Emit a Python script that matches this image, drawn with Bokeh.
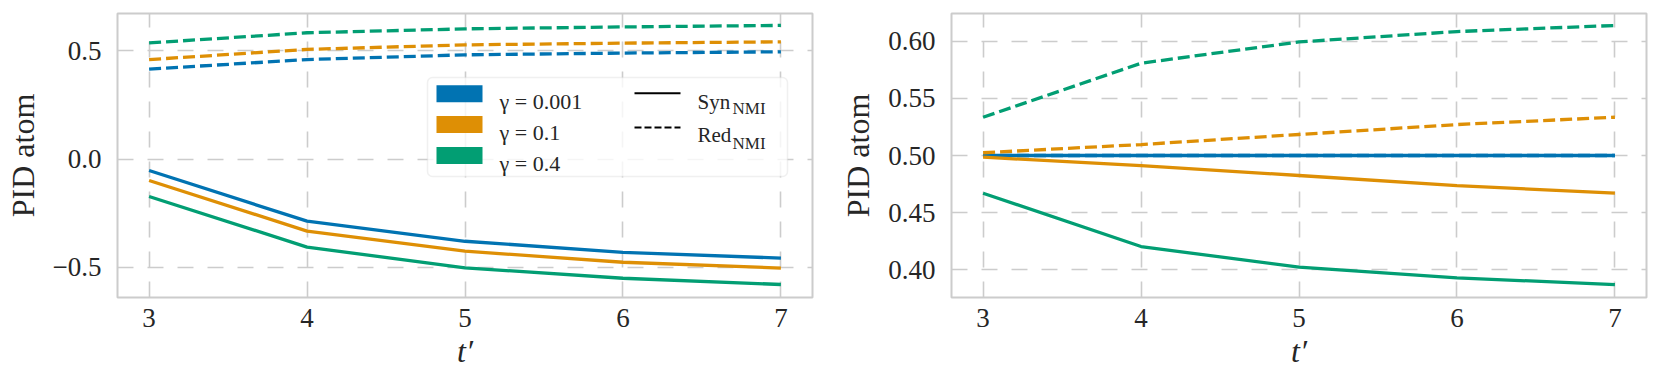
from bokeh.plotting import figure
from bokeh.models import Range1d, FixedTicker, CustomJSTickFormatter, BoxAnnotation, Label, Arrow
from bokeh.layouts import row
from bokeh.embed import file_html
from bokeh.resources import INLINE

# ---------------- data ----------------
t_prime = [3, 4, 5, 6, 7]
gamma_labels = ["γ = 0.001", "γ = 0.1", "γ = 0.4"]
colors = ["#0173b2", "#de8f05", "#029e73"]

# left panel
left_syn_g0001 = [-0.053, -0.287, -0.380, -0.431, -0.458]
left_syn_g01 = [-0.099, -0.333, -0.426, -0.477, -0.504]
left_syn_g04 = [-0.173, -0.407, -0.503, -0.551, -0.580]
left_red_g0001 = [0.416, 0.460, 0.482, 0.490, 0.496]
left_red_g01 = [0.460, 0.507, 0.528, 0.536, 0.542]
left_red_g04 = [0.537, 0.584, 0.602, 0.611, 0.618]

# right panel
right_syn_g0001 = [0.500, 0.500, 0.500, 0.500, 0.500]
right_syn_g01 = [0.4985, 0.4912, 0.4825, 0.4737, 0.4670]
right_syn_g04 = [0.4670, 0.4203, 0.4022, 0.3929, 0.3870]
right_red_g0001 = [0.500, 0.500, 0.500, 0.500, 0.500]
right_red_g01 = [0.5024, 0.5096, 0.5184, 0.5271, 0.5335]
right_red_g04 = [0.5335, 0.5808, 0.5994, 0.6085, 0.6138]

left_yticks = [-0.5, 0.0, 0.5]
right_yticks = [0.40, 0.45, 0.50, 0.55, 0.60]

# ---------------- styling ----------------
FONT = "Liberation Serif"
TXT = "#262626"
GRID = "#cccccc"
FW, FH = 695, 284
XR = (2.8, 7.2)


def make_fig(yr, yticks, digits, bl, br):
    p = figure(frame_width=FW, frame_height=FH, x_range=Range1d(*XR), y_range=Range1d(*yr),
               output_backend="svg", toolbar_location=None,
               min_border_left=bl, min_border_right=br, min_border_top=13, min_border_bottom=80,
               background_fill_color="white", border_fill_color="white")
    p.outline_line_color = GRID
    p.outline_line_width = 2
    p.outline_line_alpha = 1.0
    p.xaxis.ticker = FixedTicker(ticks=t_prime)
    p.yaxis.ticker = FixedTicker(ticks=yticks)
    p.yaxis.formatter = CustomJSTickFormatter(
        code="return tick.toFixed(%d).replace('-', '\\u2212');" % digits)
    for ax in (p.xaxis[0], p.yaxis[0]):
        ax.axis_line_color = None
        ax.major_tick_line_color = None
        ax.minor_tick_line_color = None
        ax.major_tick_in = 0
        ax.major_tick_out = 0
        ax.major_label_text_font = FONT
        ax.major_label_text_font_size = "27px"
        ax.major_label_text_color = TXT
        ax.axis_label_text_font = FONT
        ax.axis_label_text_font_size = "32px"
        ax.axis_label_text_color = TXT
    p.xaxis.major_label_standoff = 11
    p.yaxis.major_label_standoff = 16
    p.xaxis.axis_label = "t′"
    p.xaxis.axis_label_text_font_style = "italic"
    p.xaxis.axis_label_standoff = 3
    p.yaxis.axis_label = "PID atom"
    p.yaxis.axis_label_text_font_style = "normal"
    p.yaxis.axis_label_standoff = 9
    p.grid.grid_line_color = GRID
    p.grid.grid_line_width = 1.6
    p.grid.grid_line_dash = "16 14"
    return p


def draw(p, syns, reds):
    for c, s, r in zip(colors, syns, reds):
        p.line(t_prime, s, line_color=c, line_width=3.3)
        p.line(t_prime, r, line_color=c, line_width=3.3, line_dash="12 5")


p1 = make_fig((-0.64, 0.673), left_yticks, 1, 117, 10)
draw(p1, [left_syn_g0001, left_syn_g01, left_syn_g04],
     [left_red_g0001, left_red_g01, left_red_g04])

p2 = make_fig((0.3757, 0.6243), right_yticks, 2, 129, 5)
draw(p2, [right_syn_g0001, right_syn_g01, right_syn_g04],
     [right_red_g0001, right_red_g01, right_red_g04])

# ---------------- legend (left panel), laid out in frame-relative pixels ----------------
FL, FT = 119, 13
Y0, Y1 = -0.64, 0.673


def xd(px):
    return XR[0] + (px - FL) / FW * (XR[1] - XR[0])


def yd(py):
    return Y1 - (py - FT) / FH * (Y1 - Y0)


p1.add_layout(BoxAnnotation(left=xd(429), right=xd(789), top=yd(77), bottom=yd(176),
                            fill_color="white", fill_alpha=0.8, line_color=GRID,
                            line_width=1.5, border_radius=5))
row_centers = [93.3, 124.0, 155.0]
for c, lab, yc in zip(colors, gamma_labels, row_centers):
    p1.add_layout(BoxAnnotation(left=xd(438), right=xd(484), top=yd(yc - 8.5), bottom=yd(yc + 8.5),
                                fill_color=c, fill_alpha=1.0, line_color=None))
    p1.add_layout(Label(x=xd(501), y=yd(yc + 7.5), text=lab, text_font=FONT,
                        text_font_size="22px", text_color=TXT, text_baseline="alphabetic"))

style_rows = [("Syn", None, 92.7, 101.7, 108.3), ("Red", "7 3", 127.0, 134.3, 142.5)]
for name, dash, yl, base, subbase in style_rows:
    arr = Arrow(x_start=xd(636), y_start=yd(yl), x_end=xd(682), y_end=yd(yl), end=None,
                line_color="black", line_width=2)
    if dash:
        arr.line_dash = dash
    p1.add_layout(arr)
    p1.add_layout(Label(x=xd(699), y=yd(base), text=name, text_font=FONT,
                        text_font_size="21px", text_color=TXT, text_baseline="alphabetic"))
    p1.add_layout(Label(x=xd(734), y=yd(subbase), text="NMI", text_font=FONT,
                        text_font_size="17px", text_color=TXT, text_baseline="alphabetic"))

layout = row(p1, p2)
open("out.html", "w").write(file_html(layout, INLINE))
